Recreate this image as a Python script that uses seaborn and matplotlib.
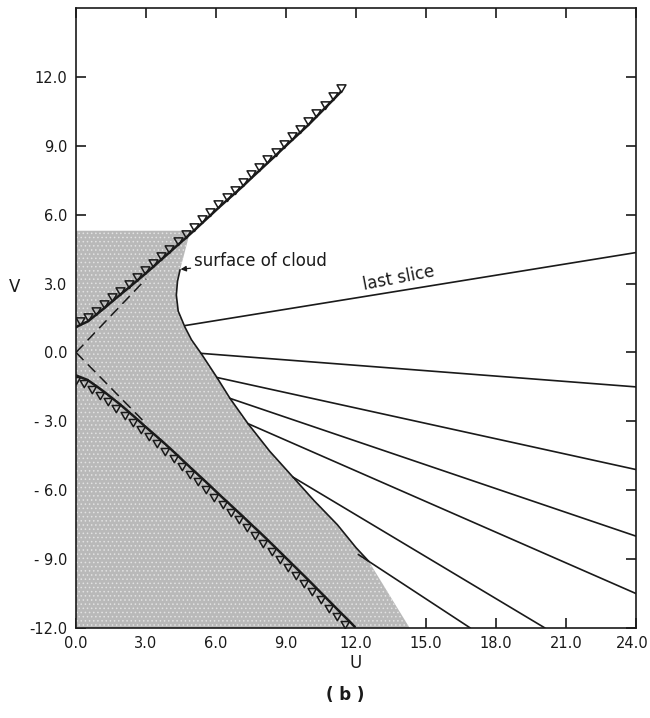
import numpy as np
import pandas as pd
import matplotlib
matplotlib.use("Agg")
import matplotlib.pyplot as plt
import matplotlib.transforms as mtransforms
from matplotlib.path import Path
import seaborn as sns

# ---------------- data ----------------
# upper trajectory (triangles), U and V
upper_u = [0.0, 0.15, 0.5, 0.85, 1.2, 1.55, 1.9, 2.25, 2.6, 2.95, 3.3, 3.65, 4.0,
           4.35, 4.7, 5.05, 5.4, 5.75, 6.1, 6.45, 6.8, 7.15, 7.5, 7.85, 8.2, 8.55,
           8.9, 9.25, 9.6, 9.95, 10.3, 10.65, 11.0, 11.35]
upper_v = [1.1, 1.18, 1.35, 1.63, 1.92, 2.22, 2.52, 2.81, 3.11, 3.41, 3.72, 4.04, 4.35,
           4.67, 4.98, 5.30, 5.63, 5.96, 6.29, 6.61, 6.92, 7.24, 7.58, 7.91, 8.24, 8.57,
           8.91, 9.24, 9.57, 9.90, 10.26, 10.62, 10.98, 11.35]
# lower trajectory (triangles)
lower_u = [0.0, 0.15, 0.5, 0.85, 1.2, 1.55, 1.9, 2.25, 2.6, 2.95, 3.3, 3.65, 4.0,
           4.35, 4.7, 5.05, 5.4, 5.75, 6.1, 6.45, 6.8, 7.15, 7.5, 7.85, 8.2, 8.55,
           8.9, 9.25, 9.6, 9.95, 10.3, 10.65, 11.0, 11.35, 11.7, 11.95]
lower_v = [-1.0, -1.06, -1.2, -1.45, -1.71, -1.99, -2.27, -2.58, -2.89, -3.21, -3.52,
           -3.83, -4.15, -4.48, -4.82, -5.15, -5.48, -5.81, -6.15, -6.48, -6.81, -7.14,
           -7.48, -7.81, -8.15, -8.5, -8.85, -9.2, -9.55, -9.9, -10.26, -10.62, -10.98,
           -11.34, -11.69, -11.95]
# dashed asymptotes from the origin
dash_up_u = [0.0, 3.0]
dash_up_v = [0.0, 3.2]
dash_lo_u = [0.0, 3.0]
dash_lo_v = [0.0, -3.1]
# surface of cloud
cloud_u = [4.46, 4.35, 4.3, 4.38, 4.67, 4.95, 5.36, 6.04, 6.6, 7.37, 8.3, 9.3,
           10.2, 11.2, 12.0, 12.55]
cloud_v = [3.6, 3.1, 2.5, 1.8, 1.1, 0.55, -0.04, -1.09, -2.0, -3.1, -4.3, -5.43,
           -6.45, -7.5, -8.5, -9.1]
# shaded region extra boundary
shade_top_v = 5.3
shade_top_u = 4.9
shade_bottom_u = 14.3
# slices: start (on cloud) and end points
slice_u0 = [4.67, 5.36, 6.04, 6.6, 7.37, 9.3, 12.1]
slice_v0 = [1.17, -0.04, -1.09, -2.0, -3.1, -5.43, -8.8]
slice_u1 = [24.0, 24.0, 24.0, 24.0, 24.0, 20.1, 16.9]
slice_v1 = [4.35, -1.5, -5.1, -8.0, -10.5, -12.0, -12.0]
# ticks
x_ticks = [0, 3, 6, 9, 12, 15, 18, 21, 24]
x_labels = ["0.0", "3.0", "6.0", "9.0", "12.0", "15.0", "18.0", "21.0", "24.0"]
y_ticks = [-12, -9, -6, -3, 0, 3, 6, 9, 12]
y_labels = ["-12.0", "- 9.0", "- 6.0", "- 3.0", "0.0", "3.0", "6.0", "9.0", "12.0"]

# ---------------- figure ----------------
sns.set_theme(style="ticks")
plt.rcParams["font.family"] = ["DejaVu Sans"]
plt.rcParams["hatch.linewidth"] = 0.6

fig = plt.figure(figsize=(6.5, 7.18), dpi=100)
ax = fig.add_axes([76 / 650, 1 - 628 / 718, 560 / 650, 620 / 718])
ax.set_xlim(0, 24)
ax.set_ylim(-12, 15)

ink = "#1a1a1a"

# shaded cloud region
poly_u = [0.0, 0.0, shade_top_u] + cloud_u + [shade_bottom_u]
poly_v = [-12.0, shade_top_v, shade_top_v] + cloud_v + [-12.0]
ax.fill(poly_u, poly_v, facecolor="#b9b9b9", edgecolor="#e2e2e2",
        hatch="....", linewidth=0, zorder=1)

# cloud surface
sns.lineplot(x=cloud_u, y=cloud_v, sort=False, color=ink, lw=1.2, ax=ax, zorder=3)

# slices
for u0, v0, u1, v1 in zip(slice_u0, slice_v0, slice_u1, slice_v1):
    sns.lineplot(x=[u0, u1], y=[v0, v1], sort=False, color=ink, lw=1.2, ax=ax, zorder=3)

# dashed asymptotes
sns.lineplot(x=dash_up_u, y=dash_up_v, sort=False, color=ink, lw=1.1,
             ax=ax, zorder=3).lines[-1].set_dashes([7, 4])
sns.lineplot(x=dash_lo_u, y=dash_lo_v, sort=False, color=ink, lw=1.1,
             ax=ax, zorder=3).lines[-1].set_dashes([7, 4])

# triangle markers offset to one side of the lines
tri_up = Path([(-0.58, 1.0), (0.58, 1.0), (0.0, 0.0), (-0.58, 1.0)],
              [Path.MOVETO, Path.LINETO, Path.LINETO, Path.CLOSEPOLY])
tri_lo = Path([(-1.16, 0.0), (0.0, 0.0), (-0.58, -1.0), (-1.16, 0.0)],
              [Path.MOVETO, Path.LINETO, Path.LINETO, Path.CLOSEPOLY])

ax.plot(upper_u, upper_v, color=ink, lw=1.8, zorder=4)
ax.plot(upper_u[1:], upper_v[1:], ls="none", marker=tri_up, ms=11,
        mfc="none", mec=ink, mew=1.1, zorder=4)
ax.plot(lower_u, lower_v, color=ink, lw=1.8, zorder=4)
ax.plot(lower_u[1:-1], lower_v[1:-1], ls="none", marker=tri_lo, ms=12,
        mfc="none", mec=ink, mew=1.1, zorder=4)

# annotations
ax.annotate("surface of cloud", xy=(4.48, 3.62), xytext=(5.05, 4.0),
            fontsize=12, color=ink, ha="left", va="center",
            arrowprops=dict(arrowstyle="-|>", color=ink, lw=0.9,
                            mutation_scale=8, shrinkA=0, shrinkB=0))
ax.text(13.85, 3.25, "last slice", fontsize=12, color=ink, rotation=11,
        ha="center", va="center")

# axes styling
for s in ax.spines.values():
    s.set_visible(True)
    s.set_color(ink)
    s.set_linewidth(1.2)
ax.set_xticks(x_ticks)
ax.set_xticklabels(x_labels)
ax.set_yticks(y_ticks)
ax.set_yticklabels(y_labels)
ax.tick_params(direction="in", length=7, width=1.2, colors=ink,
               top=True, right=True, labelsize=10.5, pad=6)
# keep the last x label inside the figure
last = ax.get_xticklabels()[-1]
last.set_transform(last.get_transform() +
                   mtransforms.ScaledTranslation(-4 / 100, 0, fig.dpi_scale_trans))
ax.set_xlabel("U", fontsize=12, color=ink, labelpad=2)
ax.set_ylabel("V", fontsize=12, color=ink, rotation=0)
ax.yaxis.set_label_coords(-0.11, 0.535)
ax.grid(False)
fig.text(345 / 650, 1 - 695 / 718, "( b )", fontsize=12, color=ink,
         ha="center", va="center", fontweight="bold")

fig.savefig("out.png", dpi=100)
